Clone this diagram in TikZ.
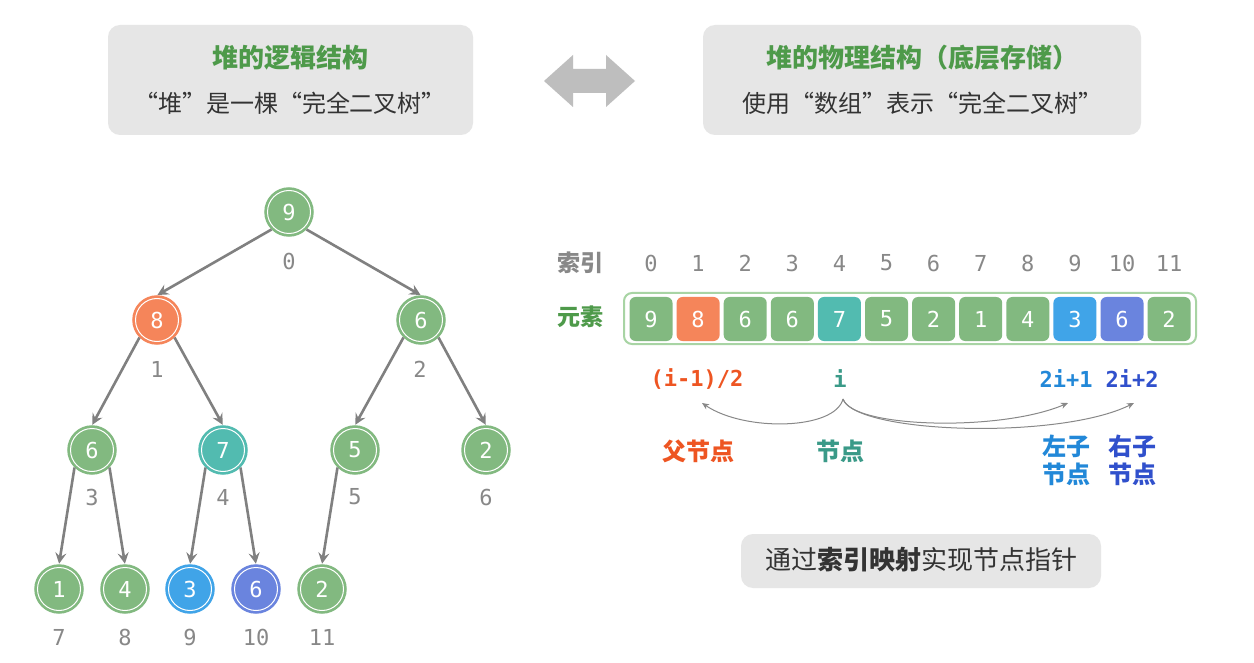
\documentclass[tikz,border=0pt]{standalone}
\usepackage{fontspec}
\setmainfont{Noto Sans CJK SC}
\newfontfamily\cjk{Noto Sans CJK SC}
\newfontfamily\monof{DejaVu Sans Mono}
\usetikzlibrary{arrows.meta}
\definecolor{cgreen}{HTML}{82B980}
\definecolor{corange}{HTML}{F5855A}
\definecolor{cteal}{HTML}{52BBB0}
\definecolor{cblue}{HTML}{40A4E8}
\definecolor{cpurple}{HTML}{6A84DE}
\definecolor{boxgray}{HTML}{E6E6E6}
\definecolor{titlegreen}{HTML}{4E9A4A}
\definecolor{txtgray}{HTML}{333333}
\definecolor{idxgray}{HTML}{888888}
\definecolor{edgegray}{HTML}{808080}
\definecolor{tred}{HTML}{EE5522}
\definecolor{tteal}{HTML}{3A9A88}
\definecolor{tblue}{HTML}{2288D8}
\definecolor{tdblue}{HTML}{3050CC}
\definecolor{arrgray}{HTML}{BEBEBE}
\definecolor{arrborder}{HTML}{A8D4A4}
\tikzset{
  tnode/.style={circle, minimum size=48pt, inner sep=0pt, fill=#1, draw=#1, line width=1.5pt,
    text=white, font=\monof\fontsize{22}{22}\selectfont,
    path picture={\draw[white,line width=1pt] (path picture bounding box.center) circle (21.5pt);}},
  idx/.style={text=idxgray, font=\monof\fontsize{22}{22}\selectfont, inner sep=0pt},
  edge/.style={draw=edgegray, line width=2.6pt, -{Stealth[length=11pt,width=11pt,inset=4pt]}, shorten >=0.5pt},
  cell/.style={rectangle, rounded corners=6pt, minimum width=43pt, minimum height=44pt, inner sep=0pt,
    fill=#1, text=white, font=\monof\fontsize{22}{22}\selectfont},
  gbox/.style={fill=boxgray, rounded corners=12pt},
  curv/.style={draw=idxgray, line width=1pt, -{Stealth[length=7pt,width=6pt,inset=2pt]}},
  expr/.style={font=\monof\bfseries\fontsize{22}{22}\selectfont, inner sep=0pt},
  lab/.style={font=\cjk\bfseries\fontsize{24}{28}\selectfont, inner sep=0pt, align=center}
}
\begin{document}
\begin{tikzpicture}[x=1pt,y=-1pt]
\useasboundingbox[fill=white] (0,0) rectangle (1254,663);
% top boxes
\path[gbox] (108,25) rectangle (473,135);
\node[text=titlegreen, font=\cjk\bfseries\fontsize{26}{26}\selectfont] (t1) at (290,58) {堆的逻辑结构};
\node[text=txtgray, font=\cjk\fontsize{24}{24}\selectfont] (s1) at (290,103) {“堆”是一棵“完全二叉树”};
\path[gbox] (703,25) rectangle (1141,135);
\node[text=titlegreen, font=\cjk\bfseries\fontsize{26}{26}\selectfont] (t2) at (922,58) {堆的物理结构（底层存储）};
\node[text=txtgray, font=\cjk\fontsize{24}{24}\selectfont] (s2) at (922,103) {使用“数组”表示“完全二叉树”};
% double arrow
\fill[arrgray] (544,81) -- (573,55) -- (573,69) -- (606,69) -- (606,55) -- (635,81) -- (606,107) -- (606,93) -- (573,93) -- (573,107) -- cycle;
% tree
\node[tnode=cgreen] (n0) at (289,212) {9};
\node[tnode=corange] (n1) at (157,320) {8};
\node[tnode=cgreen] (n2) at (421,320) {6};
\node[tnode=cgreen] (n3) at (92,450) {6};
\node[tnode=cteal] (n4) at (223,450) {7};
\node[tnode=cgreen] (n5) at (355,450) {5};
\node[tnode=cgreen] (n6) at (486,450) {2};
\node[tnode=cgreen] (n7) at (59,589) {1};
\node[tnode=cgreen] (n8) at (125,589) {4};
\node[tnode=cblue] (n9) at (190,589) {3};
\node[tnode=cpurple] (n10) at (256,589) {6};
\node[tnode=cgreen] (n11) at (322,589) {2};
\node[idx] (i0) at (289,261) {0};
\node[idx] (i1) at (157,369) {1};
\node[idx] (i2) at (420,369) {2};
\node[idx] (i3) at (92,497) {3};
\node[idx] (i4) at (223,497) {4};
\node[idx] (i5) at (355,497) {5};
\node[idx] (i6) at (486,497) {6};
\node[idx] (i7) at (59,637) {7};
\node[idx] (i8) at (125,637) {8};
\node[idx] (i9) at (190,637) {9};
\node[idx] (i10) at (256,637) {10};
\node[idx] (i11) at (322,637) {11};
\draw[edge] (n0.south west) -- (n1.north);
\draw[edge] (n0.south east) -- (n2.north);
\draw[edge] (n1.south west) -- (n3.north);
\draw[edge] (n1.south east) -- (n4.north);
\draw[edge] (n2.south west) -- (n5.north);
\draw[edge] (n2.south east) -- (n6.north);
\draw[edge] (n3.south west) -- (n7.north);
\draw[edge] (n3.south east) -- (n8.north);
\draw[edge] (n4.south west) -- (n9.north);
\draw[edge] (n4.south east) -- (n10.north);
\draw[edge] (n5.south west) -- (n11.north);
% array
\node[text=idxgray, font=\cjk\bfseries\fontsize{23}{23}\selectfont] (suoyin) at (580,263) {索引};
\node[text=titlegreen, font=\cjk\bfseries\fontsize{23}{23}\selectfont] (yuansu) at (580,317) {元素};
\draw[draw=arrborder, line width=2pt, fill=white, rounded corners=8pt] (624,293) rectangle (1196,344);
\foreach \v/\c [count=\k from 0] in {9/cgreen,8/corange,6/cgreen,6/cgreen,7/cteal,5/cgreen,2/cgreen,1/cgreen,4/cgreen,3/cblue,6/cpurple,2/cgreen}{
  \node[cell=\c] (a\k) at (651+47.1*\k,319) {\v};
  \node[idx] (ai\k) at (651+47.1*\k,263) {\k};
}
% expressions
\node[expr, text=tred] (ep) at (697,379) {(i-1)/2};
\node[expr, text=tteal] (ei) at (840,379) {i};
\node[expr, text=tblue] (el) at (1066,379) {2i+1};
\node[expr, text=tdblue] (er) at (1132,379) {2i+2};
\coordinate (ci) at (843,399);
\coordinate (cp) at (702,403);
\coordinate (cl) at (1068,403);
\coordinate (cr) at (1134,403);
\draw[curv] (ci) .. controls (835,430) and (745,432) .. (cp);
\draw[curv] (ci) .. controls (852,428) and (1000,432) .. (cl);
\draw[curv] (ci) .. controls (856,434) and (1060,440) .. (cr);
\node[lab, text=tred] (lp) at (698,451) {父节点};
\node[lab, text=tteal] (li) at (840,451) {节点};
\node[lab, text=tblue] (ll) at (1066,460) {左子\\节点};
\node[lab, text=tdblue] (lr) at (1132,460) {右子\\节点};
% bottom box
\path[gbox] (741,534) rectangle (1101,588);
\node[text=txtgray, font=\cjk\fontsize{26}{26}\selectfont] (bt) at (921,560) {通过\textbf{索引映射}实现节点指针};
\end{tikzpicture}
\end{document}
